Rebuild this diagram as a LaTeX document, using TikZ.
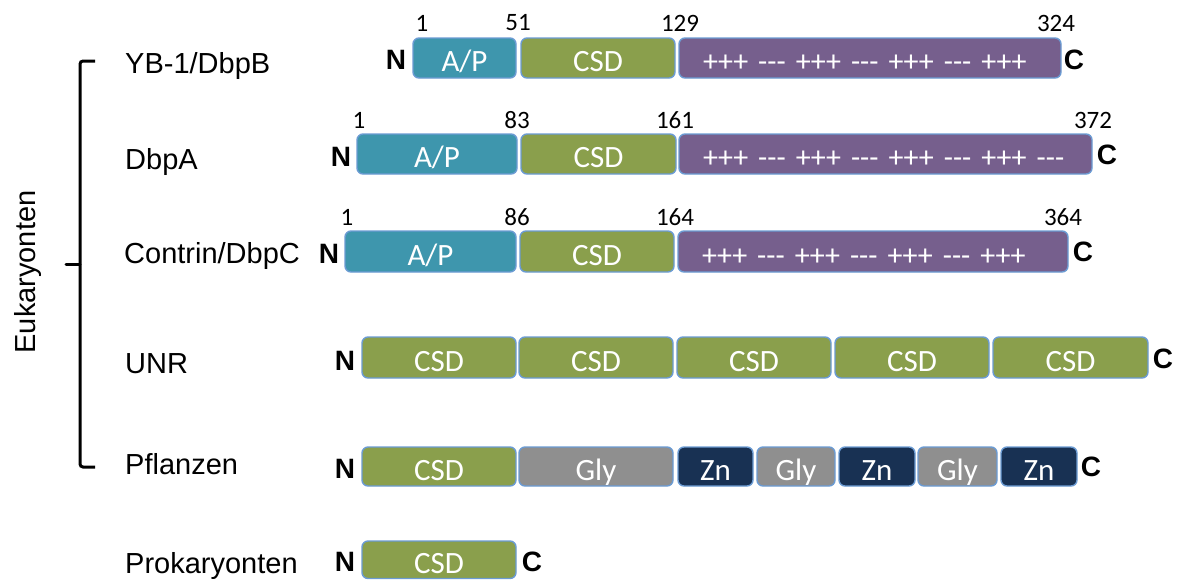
\documentclass[tikz,border=0pt]{standalone}
\usepackage{fontspec}
\setmainfont{Liberation Sans}
\newfontfamily\calib{Carlito}
\newcommand\tridash{-\kern0pt-\kern0pt-}
\definecolor{apcol}{HTML}{3E96AD}
\definecolor{csdcol}{HTML}{8A9F4C}
\definecolor{purp}{HTML}{765F8D}
\definecolor{glycol}{HTML}{8F8F8F}
\definecolor{zncol}{HTML}{183153}
\definecolor{bord}{HTML}{6B9BD3}
\begin{document}
\begin{tikzpicture}[x=1pt,y=-1pt,
  dom/.style={draw=bord, line width=1.4pt, rounded corners=6pt, inner sep=0pt, outer sep=0pt,
    anchor=north west, text=white, font=\calib\fontsize{31}{31}\selectfont,
    text height=27pt, text depth=0pt},
  ap/.style={dom, fill=apcol},
  csd/.style={dom, fill=csdcol},
  gly/.style={dom, fill=glycol},
  zn/.style={dom, fill=zncol},
  chg/.style={dom, fill=purp, align=left, inner xsep=24pt, font=\calib\fontsize{30}{30}\selectfont},
  num/.style={inner sep=0pt, font=\calib\fontsize{25}{25}\selectfont},
  term/.style={inner sep=0pt, font=\fontsize{28}{28}\selectfont\bfseries},
  lab/.style={inner sep=0pt, anchor=base west, font=\fontsize{29}{29}\selectfont},
  brace/.style={line width=3pt, rounded corners=3pt}
]
\useasboundingbox (0,0) rectangle (1180,579);

% labels
\node[lab] (l1) at (125,73) {YB-1/DbpB};
\node[lab] (l2) at (125,169) {DbpA};
\node[lab] (l3) at (124,263) {Contrin/DbpC};
\node[lab] (l4) at (125,373) {UNR};
\node[lab] (l5) at (125,474) {Pflanzen};
\node[lab] (l6) at (125,573) {Prokaryonten};
\node[lab, anchor=base, rotate=90] (euk) at (35,272) {Eukaryonten};

% brace
\draw[brace] (95,61) -- (80,61) -- (80,467) -- (95,467);
\draw[line width=3pt, line cap=round] (80,264) -- (66,264);

% Row 1
\node[term] (n1) at (396,60) {N};
\node[ap, minimum width=103pt, minimum height=40pt] (a1) at (413,38) {A/P};
\node[csd, minimum width=154pt, minimum height=40pt] (c1) at (521,38) {CSD};
\node[chg, minimum width=382pt, text width=334pt, minimum height=40pt] (p1) at (679,38) {\mbox{+++ \tridash{} +++ \tridash{} +++ \tridash{} +++}};
\node[term] (e1) at (1074,60) {C};
\node[num] at (422,23) {1};
\node[num] at (518,23) {51};
\node[num] at (680,23) {129};
\node[num] at (1056,23) {324};

% Row 2
\node[term] (n2) at (341,157) {N};
\node[ap, minimum width=160pt, minimum height=40pt] (a2) at (357,134) {A/P};
\node[csd, minimum width=155pt, minimum height=40pt] (c2) at (521,134) {CSD};
\node[chg, minimum width=413pt, text width=365pt, minimum height=40pt] (p2) at (679,134) {\mbox{+++ \tridash{} +++ \tridash{} +++ \tridash{} +++ \tridash}};
\node[term] (e2) at (1107,155) {C};
\node[num] at (359,120) {1};
\node[num] at (517,120) {83};
\node[num] at (675,120) {161};
\node[num] at (1093,120) {372};

% Row 3
\node[term] (n3) at (329,254) {N};
\node[ap, minimum width=171pt, minimum height=41pt] (a3) at (345,231) {A/P};
\node[csd, minimum width=154pt, minimum height=41pt] (c3) at (520,231) {CSD};
\node[chg, minimum width=390pt, text width=342pt, minimum height=41pt] (p3) at (678,231) {\mbox{+++ \tridash{} +++ \tridash{} +++ \tridash{} +++}};
\node[term] (e3) at (1083,252) {C};
\node[num] at (347,217) {1};
\node[num] at (517,217) {86};
\node[num] at (675,217) {164};
\node[num] at (1063,217) {364};

% Row 4
\node[term] (n4) at (345,361) {N};
\node[csd, minimum width=154pt, minimum height=41pt] (u1) at (362,337) {CSD};
\node[csd, minimum width=154pt, minimum height=41pt] (u2) at (519,337) {CSD};
\node[csd, minimum width=154pt, minimum height=41pt] (u3) at (677,337) {CSD};
\node[csd, minimum width=154pt, minimum height=41pt] (u4) at (835,337) {CSD};
\node[csd, minimum width=155pt, minimum height=41pt] (u5) at (993,337) {CSD};
\node[term] (e4) at (1163,359) {C};

% Row 5
\node[term] (n5) at (345,469) {N};
\node[csd, minimum width=154pt, minimum height=39pt] (f1) at (362,447) {CSD};
\node[gly, minimum width=154pt, minimum height=39pt] (f2) at (519,447) {Gly};
\node[zn, minimum width=75pt, minimum height=39pt] (f3) at (678,447) {Zn};
\node[gly, minimum width=78pt, minimum height=39pt] (f4) at (757,447) {Gly};
\node[zn, minimum width=76pt, minimum height=39pt] (f5) at (839,447) {Zn};
\node[gly, minimum width=79pt, minimum height=39pt] (f6) at (918,447) {Gly};
\node[zn, minimum width=76pt, minimum height=39pt] (f7) at (1001,447) {Zn};
\node[term] (e5) at (1091,467) {C};

% Row 6
\node[term] (n6) at (345,562) {N};
\node[csd, minimum width=154pt, minimum height=37.5pt] (k1) at (362,541) {CSD};
\node[term] (e6) at (532,562) {C};
\end{tikzpicture}
\end{document}
